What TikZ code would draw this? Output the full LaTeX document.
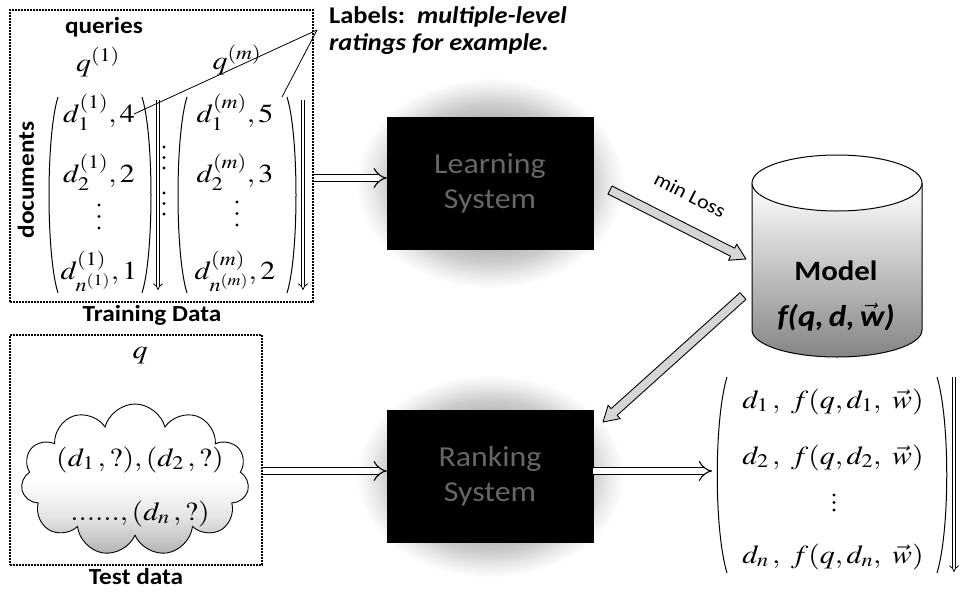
\documentclass[tikz,border=0pt]{standalone}
\usepackage{mathptmx}
\usepackage[no-math]{fontspec}
\setmainfont[FakeStretch=1.1]{Carlito}
\usetikzlibrary{shapes.geometric,shapes.symbols,arrows.meta,calc}

% soft grey glow behind the two system boxes (the path edge sits at 25bp)
\pgfdeclareradialshading{halo}{\pgfpoint{0bp}{0bp}}{%
  color(0bp)=(black!30); color(15bp)=(black!27); color(18bp)=(black!20);
  color(21bp)=(black!9); color(24bp)=(white); color(50bp)=(white)}
% light fill of the test-data cloud, grey only near its bottom
\pgfdeclareverticalshading{cloudfill}{100bp}{%
  color(0bp)=(black!30); color(25bp)=(black!30); color(38bp)=(black!10);
  color(50bp)=(white); color(100bp)=(white)}

\newcommand\dotcol[3]{% x, y of the first dot, gap between dots
  \foreach \k in {0,1,2}{\fill (#1,{#2+\k*#3}) circle[radius=1.7pt];}}

\tikzset{
  databox/.style={draw, densely dotted, line width=2pt, inner sep=0pt},
  sysbox/.style={fill=black, draw=black, minimum width=206pt, minimum height=132pt,
    inner sep=0pt, text=black!60, align=center, font=\fontsize{29}{35}\selectfont},
  boldlbl/.style={font=\fontsize{23}{26}\selectfont\bfseries, inner sep=0pt},
  mth/.style={font=\fontsize{26}{28}\selectfont, inner sep=0pt, anchor=base,
    transform shape, xscale=1.15},
  paren/.style={line width=1pt},
  flow/.style={double, double distance=6pt, line width=1.1pt, -{Implies}},
  downarrow/.style={double, double distance=2.6pt, line width=0.8pt, -{Implies}},
  fatarrow/.style={draw=black, fill=black!16, line width=0.9pt, line join=round},
}

\begin{document}
\begin{tikzpicture}[x=1pt, y=-1pt]
\useasboundingbox (0,0) rectangle (962,592);

% ---------- glow and system boxes ----------
\shade[shading=halo] (490,183) ellipse [x radius=140pt, y radius=110pt];
\shade[shading=halo] (490,476) ellipse [x radius=140pt, y radius=106pt];
\node[sysbox] (learn) at (490,183) {Learning\\System};
\node[sysbox] (rank)  at (490,476) {Ranking\\System};

% ---------- training data ----------
\node[databox, minimum width=303pt, minimum height=292pt] (train) at (161.5,156) {};
\node[boldlbl] (queries) at (104,27) {queries};
\node[boldlbl] (trainlbl) at (152,315) {Training Data};
\node[boldlbl, rotate=90] (docs) at (26,180) {documents};
\node[mth, anchor=center] (q1) at (98,62) {$q^{(1)}$};
\node[mth, anchor=center] (qm) at (237,60) {$q^{(m)}$};

% first query
\draw[paren] (58,97) .. controls (46,135) and (46,255) .. (58,293);
\draw[paren] (142,97) .. controls (154,135) and (154,255) .. (142,293);
\node[mth] (a1) at (99,122) {$d_1^{(1)},4$};
\node[mth] (a2) at (99,182) {$d_2^{(1)},2$};
\dotcol{99}{205}{11.5}
\node[mth] (a4) at (99,279) {$d^{(1)}_{n^{(1)}},1$};
\coordinate (a1top) at (158,100);
\coordinate (a1bot) at (158,290);
\draw[downarrow] (a1top) -- (a1bot);

% columns in between
\dotcol{164}{147}{10.5}
\dotcol{164}{193}{10.5}

% last query
\draw[paren] (187,97) .. controls (175,135) and (175,255) .. (187,293);
\draw[paren] (287,97) .. controls (299,135) and (299,255) .. (287,293);
\node[mth] (b1) at (235,122) {$d_1^{(m)},5$};
\node[mth] (b2) at (235,182) {$d_2^{(m)},3$};
\dotcol{237}{202}{11.5}
\node[mth] (b4) at (235,279) {$d^{(m)}_{n^{(m)}},2$};
\coordinate (b1top) at (303,100);
\coordinate (b1bot) at (303,290);
\draw[downarrow] (b1top) -- (b1bot);

% label call-out
\node[font=\fontsize{24}{27}\selectfont\bfseries, inner sep=0pt, anchor=north west,
  align=left] (labels) at (329,6)
  {Labels:\ \ \textit{multiple-level}\\\textit{ratings for example.}};
\coordinate (lblpt) at (317,30);
\coordinate (lbl4) at (134,114);
\coordinate (lbl5) at (282,97);
\draw[line width=0.8pt] (lblpt) -- (lbl4);
\draw[line width=0.8pt] (lblpt) -- (lbl5);

% ---------- model cylinder ----------
\shade[top color=white, middle color=black!22, bottom color=black!48]
  (752,183) -- (752,330) arc[start angle=180, end angle=360, x radius=85pt, y radius=27pt]
  -- (922,183) -- cycle;
\draw[line width=1pt]
  (752,183) -- (752,330) arc[start angle=180, end angle=360, x radius=85pt, y radius=27pt]
  -- (922,183);
\draw[line width=1pt, fill=white] (837,183) ellipse [x radius=85pt, y radius=28pt];
\node[inner sep=0pt, font=\fontsize{28}{30}\selectfont\bfseries] (model) at (836,271) {Model};
\node[inner sep=0pt, font=\fontsize{30}{32}\selectfont\bfseries\itshape] (modelf) at (836,317)
  {f(q,\,d,\,$\vec{\mbox{\bfseries\itshape w}}$)};

% ---------- test data ----------
\node[databox, minimum width=252pt, minimum height=230pt] (test) at (136,450) {};
\node[mth, anchor=center] (qt) at (140,356) {$q$};
\node[cloud, cloud puffs=11, aspect=1.5, draw, line width=0.9pt, shading=cloudfill,
  minimum width=228pt, minimum height=152pt, inner sep=0pt] (cloud) at (135,480) {};
\node[mth] (c1) at (140,466) {$(d_1\,,?),(d_2\,,?)$};
\node[mth] (c2) at (140,520) {$......,(d_n\,,?)$};
\node[boldlbl] (testlbl) at (136,577) {Test data};

% ---------- ranked output ----------
\draw[paren] (727,377) .. controls (714,420) and (714,530) .. (727,573);
\draw[paren] (937,377) .. controls (950,420) and (950,530) .. (937,573);
\node[mth] (r1) at (833,408) {$d_1\,,\ f(q,d_1,\ \vec{w})$};
\node[mth] (r2) at (833,464) {$d_2\,,\ f(q,d_2,\ \vec{w})$};
\dotcol{834}{495}{7.5}
\node[mth] (r4) at (833,563) {$d_n\,,\ f(q,d_n,\ \vec{w})$};
\coordinate (rtop) at (954,377);
\coordinate (rbot) at (954,572);
\draw[downarrow] (rtop) -- (rbot);
\coordinate (res) at (712,471);

% ---------- flow arrows ----------
\draw[flow] (train.east |- 0,178) -- (learn.west |- 0,178);
\draw[flow] (test.east |- 0,471) -- (rank.west |- 0,471);
\draw[flow] (rank.east |- 0,471) -- (res);

% grey arrows to and from the model
\coordinate (l0) at (610,190);
\coordinate (l1) at (746,259);
\coordinate (m0) at (743,296);
\coordinate (m1) at (603,422);
\draw[fatarrow] let \p1=($(l1)-(l0)$), \n1={atan2(\y1,\x1)}, \n2={veclen(\x1,\y1)} in
  [shift={(l0)}, rotate=\n1]
  (0pt,-4.5pt) -- ({\n2*1pt-15pt},-4.5pt) -- ({\n2*1pt-15pt},-9pt) -- ({\n2*1pt},0pt)
  -- ({\n2*1pt-15pt},9pt) -- ({\n2*1pt-15pt},4.5pt) -- (0pt,4.5pt) -- cycle;
\draw[fatarrow] let \p1=($(m1)-(m0)$), \n1={atan2(\y1,\x1)}, \n2={veclen(\x1,\y1)} in
  [shift={(m0)}, rotate=\n1]
  (0pt,-4.5pt) -- ({\n2*1pt-15pt},-4.5pt) -- ({\n2*1pt-15pt},-9pt) -- ({\n2*1pt},0pt)
  -- ({\n2*1pt-15pt},9pt) -- ({\n2*1pt-15pt},4.5pt) -- (0pt,4.5pt) -- cycle;
\node[inner sep=0pt, rotate=-27, font=\fontsize{20}{22}\selectfont] (minloss) at (690,195) {min Loss};
\end{tikzpicture}
\end{document}
